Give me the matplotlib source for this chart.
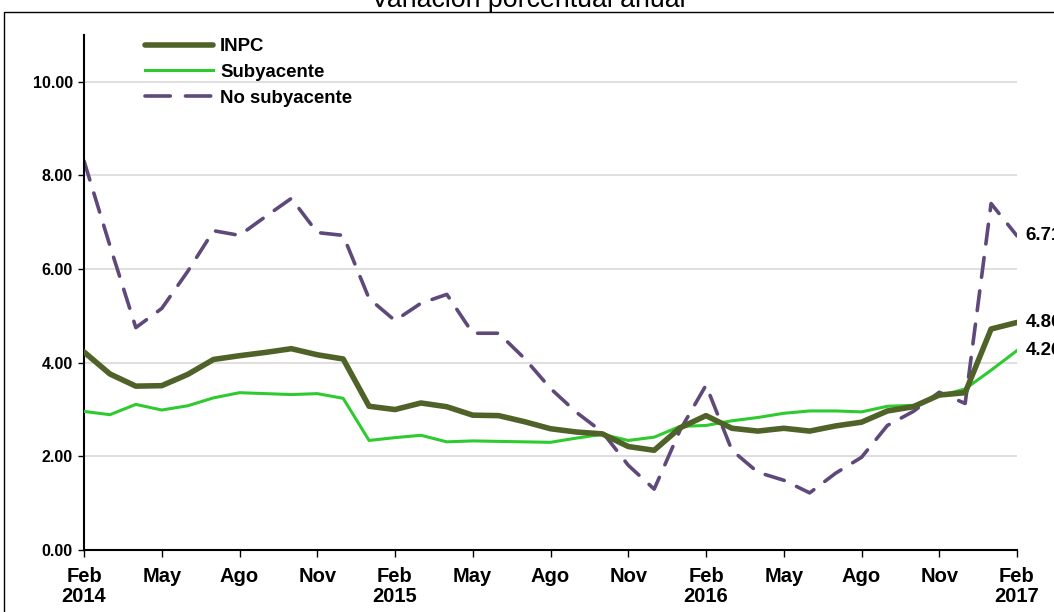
import matplotlib
matplotlib.use("Agg")
import matplotlib.pyplot as plt
from matplotlib.patches import Rectangle
from matplotlib.lines import Line2D

plt.rcParams['font.family'] = ['Liberation Sans', 'DejaVu Sans']

# ---- data (Feb 2014 .. Feb 2017, monthly) ----
months = list(range(37))
inpc = [4.23, 3.76, 3.50, 3.51, 3.75, 4.07, 4.15, 4.22, 4.30, 4.17, 4.08,
        3.07, 3.00, 3.14, 3.06, 2.88, 2.87, 2.74, 2.59, 2.52, 2.48, 2.21,
        2.13, 2.61, 2.87, 2.60, 2.54, 2.60, 2.54, 2.65, 2.73, 2.97, 3.06,
        3.31, 3.36, 4.72, 4.86]
subyacente = [2.96, 2.89, 3.11, 2.99, 3.08, 3.25, 3.36, 3.34, 3.32, 3.34, 3.24,
              2.34, 2.40, 2.45, 2.31, 2.33, 2.32, 2.31, 2.30, 2.39, 2.47, 2.34,
              2.41, 2.64, 2.66, 2.76, 2.83, 2.92, 2.97, 2.97, 2.95, 3.07, 3.09,
              3.29, 3.44, 3.84, 4.26]
no_subyacente = [8.31, 6.50, 4.75, 5.16, 5.95, 6.82, 6.72, 7.12, 7.51, 6.78, 6.72,
                 5.37, 4.90, 5.27, 5.46, 4.63, 4.63, 4.09, 3.45, 2.94, 2.52, 1.81,
                 1.30, 2.56, 3.52, 2.13, 1.66, 1.49, 1.22, 1.64, 1.98, 2.66, 2.96,
                 3.37, 3.13, 7.40, 6.71]
tick_pos = list(range(0, 37, 3))
tick_labels = ["Feb\n2014", "May", "Ago", "Nov", "Feb\n2015", "May", "Ago", "Nov",
               "Feb\n2016", "May", "Ago", "Nov", "Feb\n2017"]
y_ticks = [0, 2, 4, 6, 8, 10]
end_labels = ["6.71", "4.86", "4.26"]

c_inpc = "#4F6228"
c_sub = "#2FCA2F"
c_nosub = "#5F497A"

W, H = 1054, 612
fig = plt.figure(figsize=(W / 100, H / 100), dpi=100)
ax = fig.add_axes([84 / W, 1 - 550 / H, (1017 - 84) / W, (550 - 35) / H])

ax.set_xlim(0, 36)
ax.set_ylim(0, 11)

ax.yaxis.grid(True, color="#D9D9D9", linewidth=1.2)
ax.set_axisbelow(True)

l1, = ax.plot(months, inpc, color=c_inpc, linewidth=4.0, solid_capstyle='round',
              solid_joinstyle='round', label="INPC", zorder=4)
l2, = ax.plot(months, subyacente, color=c_sub, linewidth=2.2, solid_joinstyle='round',
              label="Subyacente", zorder=3)
l3, = ax.plot(months, no_subyacente, color=c_nosub, linewidth=2.6,
              dash_capstyle='round', dash_joinstyle='round',
              label="No subyacente", zorder=2)
l3.set_dashes((5.5, 3.8))

# legend proxy for the dashed line (two dashes across the handle)
h3 = Line2D([], [], color=c_nosub, linewidth=2.6, dash_capstyle='round')
h3.set_dashes((7.0, 4.2))

ax.set_xticks(tick_pos)
ax.set_xticklabels(tick_labels, fontsize=14.5, fontweight='bold', linespacing=1.12)
ax.set_yticks(y_ticks)
ax.set_yticklabels([f"{v:.2f}" for v in y_ticks], fontsize=11.5, fontweight='bold')
ax.tick_params(axis='x', direction='out', length=5, width=1, pad=7)
ax.tick_params(axis='y', direction='out', length=4, width=1, pad=4)

for s in ['top', 'right']:
    ax.spines[s].set_visible(False)
for s in ['left', 'bottom']:
    ax.spines[s].set_linewidth(1.5)
    ax.spines[s].set_color('black')

for val, txt in zip([no_subyacente[-1], inpc[-1], subyacente[-1]], end_labels):
    ax.annotate(txt, xy=(36, val), xytext=(6, 0), textcoords='offset points',
                va='center', ha='left', fontsize=13.5, fontweight='bold',
                annotation_clip=False)

leg = ax.legend(handles=[l1, l2, h3], labels=["INPC", "Subyacente", "No subyacente"],
                loc='upper left',
                bbox_to_anchor=(145 / W, 1 - 38 / H), bbox_transform=fig.transFigure,
                frameon=False, prop={'weight': 'bold', 'size': 13.4},
                handlelength=3.65, handletextpad=0.38, labelspacing=0.47,
                borderpad=0, borderaxespad=0)

# outer border and cut-off title
fig.patches.append(Rectangle((4 / W, -0.1), 1.2, 1 - 12 / H + 0.1, transform=fig.transFigure,
                             fill=False, edgecolor='black', linewidth=1.0))
fig.text(528 / W, 1 - 7 / H, "Variación porcentual anual", ha='center', va='baseline',
         fontsize=19.3)

fig.savefig("out.png", dpi=100)
